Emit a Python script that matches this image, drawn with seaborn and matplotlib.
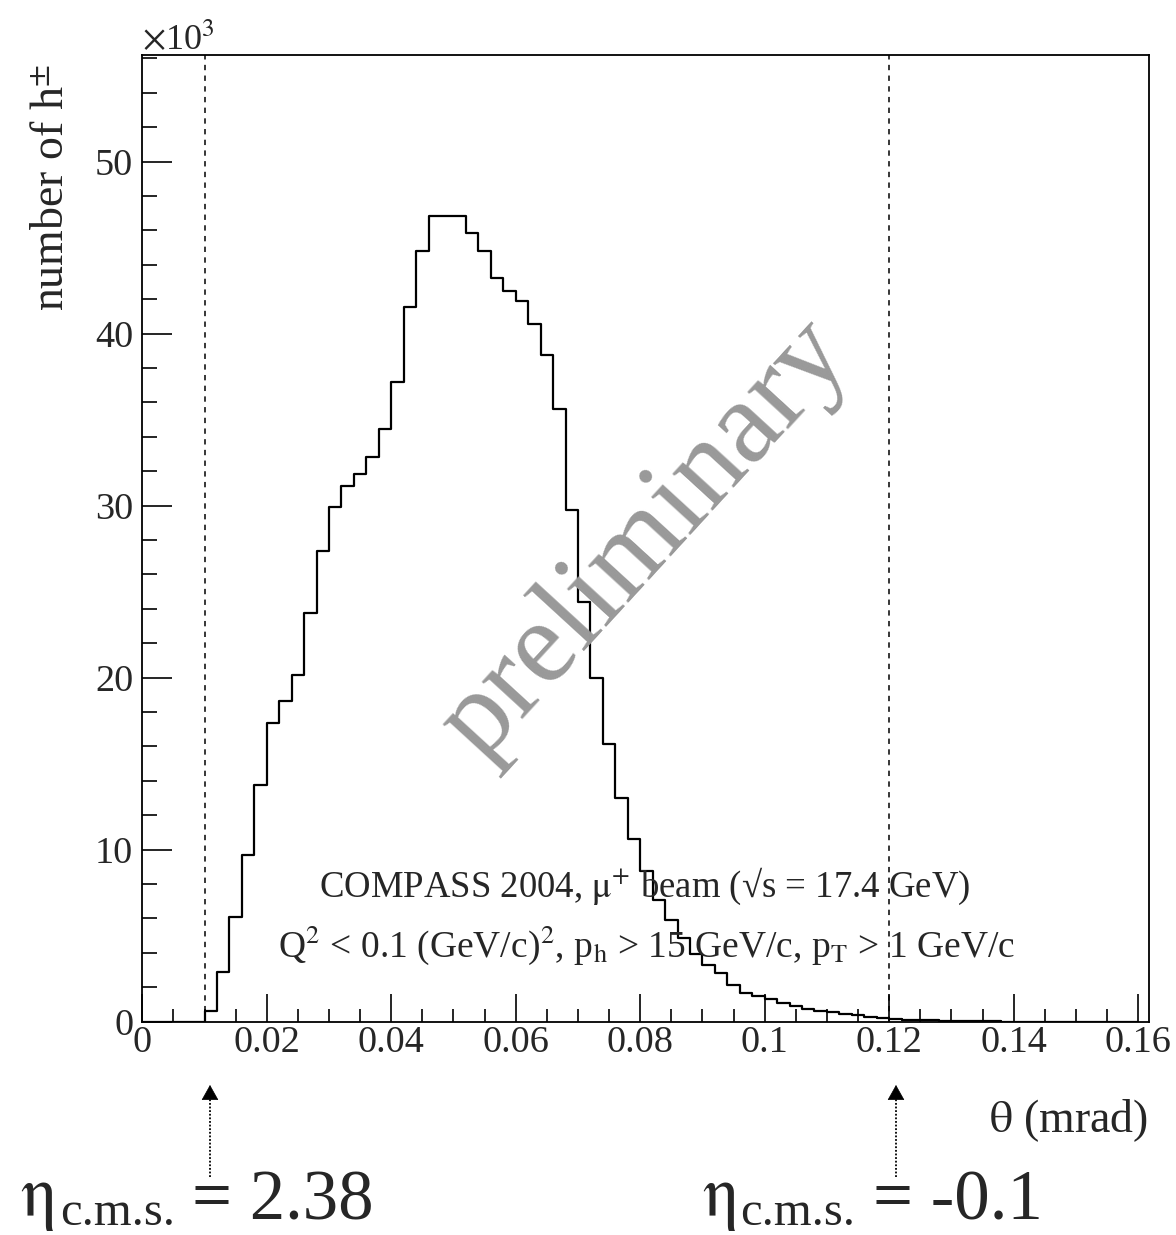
import numpy as np
import pandas as pd
import matplotlib
matplotlib.use("Agg")
import matplotlib.pyplot as plt
import seaborn as sns
from matplotlib.ticker import MultipleLocator, FuncFormatter
from matplotlib.lines import Line2D
from matplotlib.patches import FancyArrowPatch

# ---------------- data (counts in units of 10^3 per 0.002 mrad bin) ----------------
bin_width = 0.002
first_bin_low = 0.010
counts_k = [0.60, 2.87, 6.07, 9.69, 13.76, 17.37, 18.66, 20.14, 23.74, 27.38,
            29.92, 31.14, 31.86, 32.83, 34.48, 37.17, 41.55, 44.79, 46.84, 46.84,
            46.84, 45.87, 44.83, 43.22, 42.46, 41.88, 40.58, 38.74, 35.64, 29.73,
            24.38, 19.98, 16.15, 13.00, 10.62, 8.74, 7.05, 5.89, 4.87, 3.95,
            3.31, 2.83, 2.11, 1.65, 1.50, 1.32, 1.08, 0.89, 0.75, 0.64,
            0.54, 0.45, 0.37, 0.29, 0.21, 0.16, 0.12, 0.09, 0.07, 0.05,
            0.04, 0.03, 0.02, 0.015, 0.01]
theta_low = np.round(first_bin_low + bin_width * np.arange(len(counts_k)), 4)
cut_lines = [0.010, 0.120]
eta_labels = ["2.38", "-0.1"]
x_ticks = [0, 0.02, 0.04, 0.06, 0.08, 0.1, 0.12, 0.14, 0.16]
y_ticks = [0, 10, 20, 30, 40, 50]
note1 = r"COMPASS 2004, $\mathrm{\mu^{+}}$ beam (√s = 17.4 GeV)"
note2 = r"Q$^{2}$ < 0.1 (GeV/c)$^{2}$, p$_{\mathrm{h}}$ > 15 GeV/c, p$_{\mathrm{T}}$ > 1 GeV/c"

# ---------------- style ----------------
sns.set_style("ticks")
plt.rcParams["font.family"] = ["Liberation Serif", "DejaVu Serif"]
plt.rcParams["mathtext.fontset"] = "stix"

W, H = 1176, 1235
fig = plt.figure(figsize=(W / 100, H / 100), dpi=100)
ax_l, ax_r, ax_t, ax_b = 142.3, 1149.3, 55.0, 1021.7
ax = fig.add_axes([ax_l / W, (H - ax_b) / H, (ax_r - ax_l) / W, (ax_b - ax_t) / H])

df = pd.DataFrame({"theta": theta_low + bin_width / 2, "n": counts_k})
edges = [round(bin_width * i, 4) for i in range(81)]
sns.histplot(data=df, x="theta", weights="n", bins=edges, element="step",
             fill=False, color="black", linewidth=1.6, ax=ax)

for xc in cut_lines:
    ax.axvline(xc, color="black", lw=1.1, ls=(0, (3.5, 3.5)))

ax.set_xlim(0, 0.1618)
ax.set_ylim(0, 56.2)
ax.set_xticks(x_ticks)
ax.set_yticks(y_ticks)
ax.xaxis.set_minor_locator(MultipleLocator(0.005))
ax.yaxis.set_minor_locator(MultipleLocator(2))
ax.xaxis.set_major_formatter(FuncFormatter(lambda v, p: f"{v:g}"))
ax.yaxis.set_major_formatter(FuncFormatter(lambda v, p: f"{v:g}"))
ax.tick_params(axis="both", which="both", direction="in", top=False, right=False,
               width=1.2, labelsize=27.5, color="black")
ax.tick_params(axis="x", which="major", length=20, pad=3)
ax.tick_params(axis="x", which="minor", length=9.5)
ax.tick_params(axis="y", which="major", length=21.5, pad=6.5)
ax.tick_params(axis="y", which="minor", length=11)
for s in ax.spines.values():
    s.set_linewidth(1.3)
    s.set_color("black")
    s.set_visible(True)

ax.set_xlabel(r"$\mathrm{\theta}$ (mrad)", fontsize=33)
ax.xaxis.label.set_ha("right")
ax.xaxis.label.set_va("baseline")
ax.xaxis.set_label_coords((1148 - ax_l) / (ax_r - ax_l), (ax_b - 1132) / (ax_b - ax_t))

ax.set_ylabel(r"number of h$^{\pm}$", fontsize=33)
ax.yaxis.label.set_rotation_mode("anchor")
ax.yaxis.label.set_ha("right")
ax.yaxis.label.set_va("baseline")
ax.yaxis.set_label_coords((63 - ax_l) / (ax_r - ax_l), (ax_b - 64) / (ax_b - ax_t))

fig.text(142 / W, 1 - 50 / H, r"$\mathrm{\times}$10$^{3}$", fontsize=26, ha="left", va="baseline")

ax.text(0.0808, 28.0, "preliminary", rotation=47.5, color="#999999", fontsize=85,
        ha="center", va="center", rotation_mode="anchor")

fig.text(645 / W, 1 - 897 / H, note1, fontsize=26.5, ha="center", va="baseline")
fig.text(646 / W, 1 - 957 / H, note2, fontsize=27, ha="center", va="baseline")

# eta annotations below the axis
arrow_px = [210, 896]
eta_left = [20, 702]
sub_left = [60, 740]
eq_left = [192, 873]
for i in range(2):
    fig.text(eta_left[i] / W, 1 - 1215 / H, r"$\mathrm{\eta}$", fontsize=51, ha="left", va="baseline")
    fig.text(sub_left[i] / W, 1 - 1225 / H, "c.m.s.", fontsize=35, ha="left", va="baseline")
    fig.text(eq_left[i] / W, 1 - 1220 / H, "= " + eta_labels[i], fontsize=51, ha="left", va="baseline")
    xa = arrow_px[i] / W
    fig.add_artist(Line2D([xa, xa], [1 - 1177 / H, 1 - 1096 / H], transform=fig.transFigure,
                          color="black", lw=1.3, ls=(0, (1, 1))))
    fig.add_artist(FancyArrowPatch(
        (xa, 1 - 1098 / H), (xa, 1 - 1085 / H), transform=fig.transFigure,
        arrowstyle="-|>,head_length=0.5,head_width=0.28", mutation_scale=20,
        color="black", lw=0.5, shrinkA=0, shrinkB=0))

fig.savefig("out.png", dpi=100)
